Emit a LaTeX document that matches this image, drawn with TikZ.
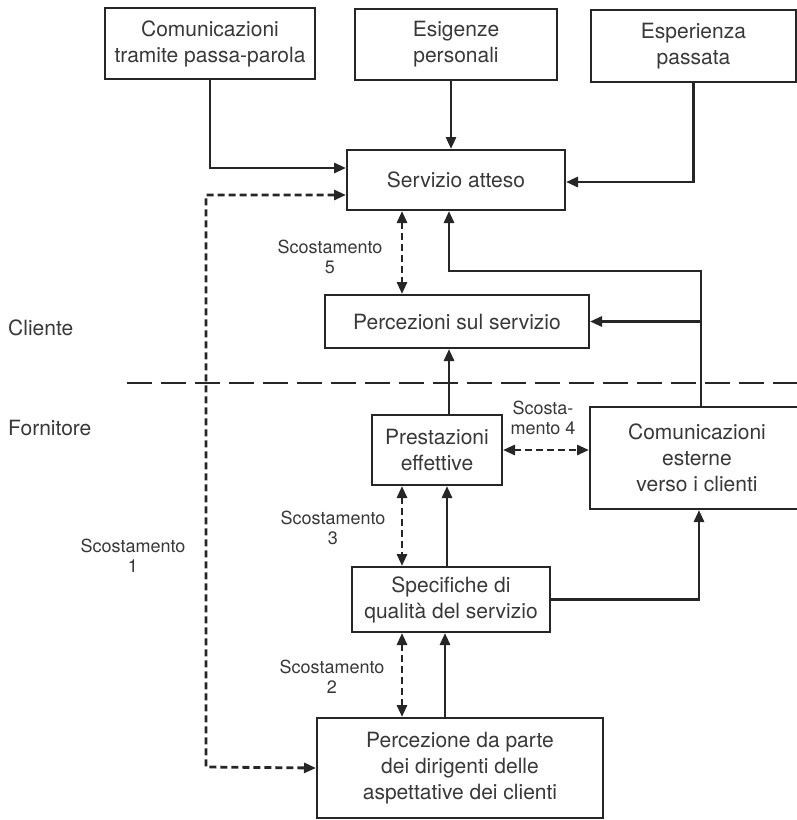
\documentclass[tikz,border=0pt]{standalone}
\usepackage{fontspec}
\setmainfont{TeX Gyre Heros}
\usetikzlibrary{arrows.meta}
\definecolor{ink}{HTML}{262626}
\definecolor{txt}{HTML}{383838}
\begin{document}
\begin{tikzpicture}[x=1pt,y=-1pt,
 box/.style={draw=ink,line width=2pt,align=center,inner sep=0pt,text=txt,font=\fontsize{21}{26}\selectfont},
 arr/.style={draw=ink,line width=2.8pt,-{Triangle[length=12pt,width=10pt]}},
 darr/.style={draw=ink,line width=2.8pt,dash pattern=on 7pt off 4pt,{Triangle[length=12pt,width=10pt]}-{Triangle[length=12pt,width=10pt]}},
 lab/.style={text=txt,font=\fontsize{18}{20}\selectfont,align=center,inner sep=0pt},
 side/.style={text=txt,font=\fontsize{21}{25}\selectfont,anchor=west,inner sep=0pt},
 divider/.style={draw=ink,line width=2.8pt,dash pattern=on 25pt off 9pt}]
\useasboundingbox (0,0) rectangle (797,820);
% boxes
\node[box,minimum width=210pt,minimum height=71pt] (wom) at (210,43.5) {Comunicazioni\\tramite passa-parola};
\node[box,minimum width=202pt,minimum height=71pt] (pers) at (456,44.5) {Esigenze\\personali};
\node[box,minimum width=205pt,minimum height=72pt] (past) at (693.5,46) {Esperienza\\passata};
\node[box,minimum width=218pt,minimum height=60pt] (exp) at (456,180) {Servizio atteso};
\node[box,minimum width=264pt,minimum height=53pt] (perc) at (457,321.5) {Percezioni sul servizio};
\node[box,minimum width=130pt,minimum height=70pt] (deliv) at (437,450) {Prestazioni\\effettive};
\node[box,minimum width=214pt,minimum height=102pt] (ext) at (697,458) {Comunicazioni\\esterne\\verso i clienti};
\node[box,minimum width=198pt,minimum height=65pt] (spec) at (451,599.5) {Specifiche di\\qualità del servizio};
\node[box,minimum width=286pt,minimum height=100pt] (mgmt) at (460,768) {Percezione da parte\\dei dirigenti delle\\aspettative dei clienti};
% side labels
\node[side] (cli) at (8,328) {Cliente};
\node[side] (for) at (8,428) {Fornitore};
% gap labels
\node[lab] (s5) at (330,257) {Scostamento\\5};
\node[lab] (s4) at (543,418) {Scosta-\\mento 4};
\node[lab] (s3) at (333,528) {Scostamento\\3};
\node[lab] (s2) at (332,677) {Scostamento\\2};
\node[lab] (s1) at (133,556) {Scostamento\\1};
% helper coordinates
\coordinate (g1a) at (206,195);
\coordinate (g1b) at (206,767);
\coordinate (gx) at (402,0);
\coordinate (j) at (701,271);
\coordinate (k) at (449,271);
\coordinate (m) at (447,0);
\coordinate (n) at (445,0);
\coordinate (dl) at (127,383);
\coordinate (dr) at (797,383);
% divider
\draw[divider] (dl) -- (dr);
% inputs to expected service
\draw[arr] (wom.south) |- ([yshift=12pt]exp.west);
\draw[arr] ([xshift=-5pt]pers.south) -- ([xshift=-5pt]exp.north);
\draw[arr] (past.south) |- ([yshift=-2pt]exp.east);
% gap 1
\draw[darr] ([yshift=-15pt]exp.west) -- (g1a) -- (g1b) -- (mgmt.west);
% gap 5
\draw[darr] (exp.south -| gx) -- (perc.north -| gx);
% external communications
\draw[arr] (ext.north -| j) -- (j) -- (k) -- (exp.south -| k);
\draw[arr] (j |- perc.east) -- (perc.east);
% delivery to perceptions
\draw[arr] (deliv.north -| k) -- (perc.south -| k);
% gap 4
\draw[darr] (deliv.east) -- (ext.west |- deliv.east);
% gap 3
\draw[darr] (deliv.south -| gx) -- (spec.north -| gx);
\draw[arr] (spec.north -| m) -- (deliv.south -| m);
% spec to ext
\draw[arr] (spec.east) -| ([xshift=2pt]ext.south);
% gap 2
\draw[darr] (mgmt.north -| gx) -- (spec.south -| gx);
\draw[arr] (mgmt.north -| n) -- (spec.south -| n);
\end{tikzpicture}
\end{document}
